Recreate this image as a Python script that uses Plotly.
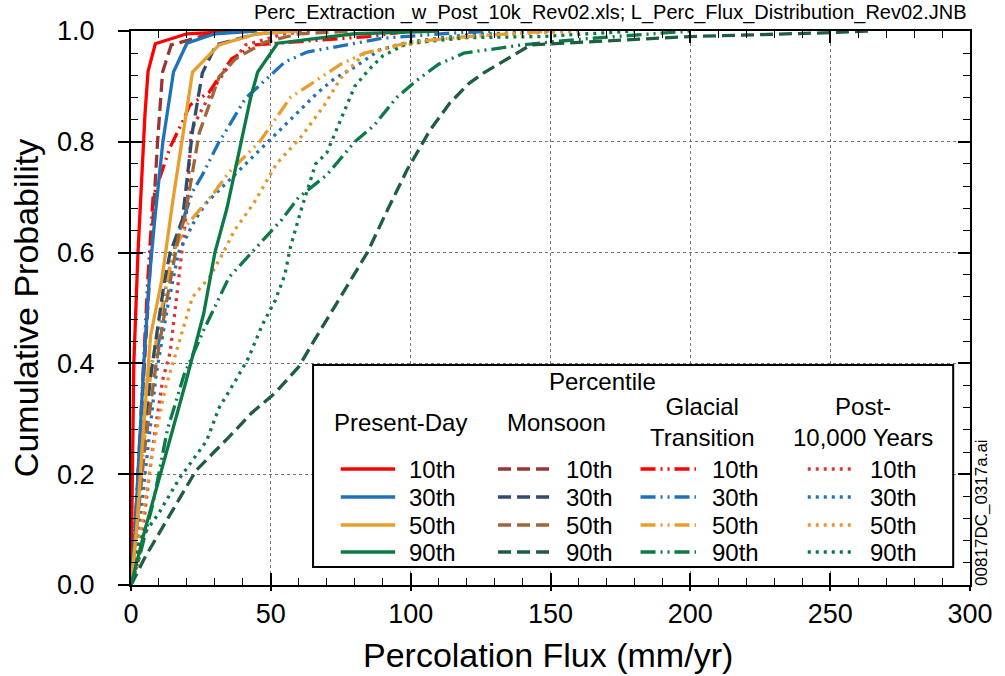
import plotly.graph_objects as go

# ---------------- data (x = percolation flux mm/yr, y = cumulative probability) ----------------
pd10_x = [0, 0.5, 1, 2.5, 3.5, 5, 6.1, 8.7, 20, 40]
pd10_y = [0, 0.2, 0.4, 0.6, 0.7, 0.85, 0.927, 0.977, 0.995, 1.0]
pd30_x = [0, 1.5, 3, 4.6, 6.5, 8.5, 11.4, 15.2, 20, 30, 45]
pd30_y = [0, 0.1, 0.25, 0.4, 0.55, 0.66, 0.8, 0.926, 0.978, 0.995, 1.0]
pd50_x = [0, 2, 4, 7, 11, 15, 22, 31.5, 45, 60]
pd50_y = [0, 0.1, 0.25, 0.45, 0.55, 0.695, 0.926, 0.975, 0.995, 1.0]
pd90_x = [0, 5, 10.5, 19.8, 26, 30, 34.3, 42.8, 45.3, 52.4, 80, 110]
pd90_y = [0, 0.1, 0.2, 0.37, 0.49, 0.6, 0.68, 0.88, 0.926, 0.978, 0.995, 1.0]

mo10_x = [0, 2, 4, 6, 8, 9.5, 11.3, 14.4, 30, 40]
mo10_y = [0, 0.15, 0.33, 0.5, 0.66, 0.8, 0.926, 0.975, 0.997, 1.0]
mo30_x = [0, 2, 4, 7.4, 10, 12, 14, 18.4, 22, 25.5, 30.4, 45, 60]
mo30_y = [0, 0.12, 0.25, 0.39, 0.48, 0.55, 0.6, 0.66, 0.82, 0.924, 0.975, 0.995, 1.0]
mo50_x = [0, 2, 5, 9, 13, 17, 19.1, 24.4, 31.5, 37.4, 48, 60, 80]
mo50_y = [0, 0.1, 0.25, 0.4, 0.52, 0.63, 0.66, 0.816, 0.917, 0.95, 0.98, 0.995, 1.0]
mo90_x = [0, 5, 11.4, 23.3, 35, 43, 51.6, 60, 65, 75, 84.5, 92, 98.7, 106.8, 114, 121, 126, 143, 200, 250, 265]
mo90_y = [0, 0.05, 0.105, 0.207, 0.267, 0.31, 0.347, 0.394, 0.437, 0.52, 0.6, 0.68, 0.749, 0.82, 0.87, 0.906, 0.924, 0.975, 0.99, 0.997, 1.0]

gt10_x = [0, 2, 4, 6, 7.9, 11.3, 14, 18.4, 21, 28, 36, 44.6, 85, 100]
gt10_y = [0, 0.15, 0.35, 0.55, 0.7, 0.75, 0.79, 0.836, 0.866, 0.89, 0.95, 0.975, 0.99, 1.0]
gt30_x = [0, 2, 4, 6, 10, 12.5, 14.5, 18, 22, 25.5, 31.5, 34, 41, 45.6, 55, 63, 90, 114, 130]
gt30_y = [0, 0.12, 0.25, 0.38, 0.44, 0.54, 0.59, 0.65, 0.71, 0.74, 0.8, 0.82, 0.879, 0.9, 0.944, 0.962, 0.987, 0.996, 1.0]
gt50_x = [0, 2, 4, 7, 11, 15, 20, 30, 35, 46, 57, 66, 75, 83.5, 100, 120, 150]
gt50_y = [0, 0.1, 0.22, 0.38, 0.5, 0.6, 0.65, 0.71, 0.745, 0.8, 0.88, 0.91, 0.94, 0.96, 0.98, 0.99, 1.0]
gt90_x = [0, 3, 8, 13, 19, 26, 35, 47, 54, 60, 70, 80, 87, 95, 102, 110, 119, 140, 160, 200]
gt90_y = [0, 0.05, 0.15, 0.28, 0.38, 0.46, 0.555, 0.62, 0.66, 0.7, 0.74, 0.8, 0.83, 0.88, 0.91, 0.94, 0.96, 0.975, 0.985, 1.0]

po10_x = [0, 3, 7.8, 11.3, 14, 17, 20, 21.5, 25.5, 30, 34, 41, 55, 65]
po10_y = [0, 0.05, 0.25, 0.37, 0.42, 0.55, 0.68, 0.82, 0.86, 0.9, 0.93, 0.975, 0.995, 1.0]
po30_x = [0, 2, 5, 9, 13, 17, 23, 27, 35, 47, 54, 60, 67, 73, 80, 89, 99, 120, 150]
po30_y = [0, 0.05, 0.2, 0.38, 0.5, 0.6, 0.66, 0.69, 0.73, 0.79, 0.827, 0.857, 0.89, 0.915, 0.935, 0.966, 0.98, 0.993, 1.0]
po50_x = [0, 2, 5, 8, 12, 19, 22, 28, 33, 37, 44, 52, 61, 69, 75, 83.5, 93, 110, 130, 160]
po50_y = [0, 0.05, 0.15, 0.25, 0.35, 0.47, 0.52, 0.555, 0.6, 0.64, 0.69, 0.76, 0.81, 0.865, 0.915, 0.96, 0.97, 0.985, 0.993, 1.0]
po90_x = [0, 3, 10, 17, 27, 31.5, 37.5, 42, 47, 51.6, 55, 57, 61, 66, 70, 75, 80, 85, 90, 99, 120, 147, 180]
po90_y = [0, 0.08, 0.13, 0.19, 0.26, 0.32, 0.37, 0.41, 0.47, 0.514, 0.56, 0.61, 0.68, 0.76, 0.78, 0.84, 0.9, 0.93, 0.955, 0.978, 0.988, 0.99, 1.0]

percentiles = ["10th", "30th", "50th", "90th"]
groups = ["Present-Day", "Monsoon", "Glacial<br>Transition", "Post-<br>10,000 Years"]
x_ticks = [0, 50, 100, 150, 200, 250, 300]
y_ticks = [0.0, 0.2, 0.4, 0.6, 0.8, 1.0]

# ---------------- styles ----------------
RED, BLUE, ORANGE, GREEN = "#FF0000", "#1F72B8", "#E89E2C", "#0B7A46"
MONSOON_COLORS = ["#9B3434", "#2F4D6B", "#A0663A", "#1F5C41"]
POST_COLORS = ["#D9363C", "#1F72B8", "#E8962C", "#0B7A46"]
PD_COLORS = [RED, BLUE, ORANGE, GREEN]
DASH_MO = "13px,6px"
DASH_GT = "15px,5px,2px,5px,2px,5px"
DASH_PO = "3px,5px"
LW = 3.3

series = {
    "po": [(po10_x, po10_y), (po30_x, po30_y), (po50_x, po50_y), (po90_x, po90_y)],
    "gt": [(gt10_x, gt10_y), (gt30_x, gt30_y), (gt50_x, gt50_y), (gt90_x, gt90_y)],
    "mo": [(mo10_x, mo10_y), (mo30_x, mo30_y), (mo50_x, mo50_y), (mo90_x, mo90_y)],
    "pd": [(pd10_x, pd10_y), (pd30_x, pd30_y), (pd50_x, pd50_y), (pd90_x, pd90_y)],
}
style = {
    "pd": (PD_COLORS, "solid"),
    "mo": (MONSOON_COLORS, DASH_MO),
    "gt": (PD_COLORS, DASH_GT),
    "po": (POST_COLORS, DASH_PO),
}

fig = go.Figure()
for key in ["po", "gt", "mo", "pd"]:
    cols, dash = style[key]
    for i, (xs, ys) in enumerate(series[key]):
        fig.add_trace(go.Scatter(x=xs, y=ys, mode="lines", showlegend=False,
                                 line=dict(color=cols[i], width=LW, dash=dash),
                                 hoverinfo="skip"))
# invisible trace that anchors the overlay axes carrying the outward ticks and labels
fig.add_trace(go.Scatter(x=[None], y=[None], xaxis="x2", yaxis="y2", mode="lines",
                         showlegend=False, hoverinfo="skip"))

# plot area in pixels: x 131..979, y 31..585
L, R, T, B = 131, 979, 31, 585
def px(x):
    return (x - L) / (R - L)
def py(y):
    return (B - y) / (B - T)

FONT = "Arial, Liberation Sans, sans-serif"
common_main = dict(showline=True, linecolor="black", linewidth=2, mirror="allticks",
                   ticks="inside", ticklen=12, tickwidth=1.5, tickcolor="black",
                   showgrid=True, gridcolor="#777777", griddash="3px,3px", gridwidth=1,
                   zeroline=False, showticklabels=False)
fig.update_layout(
    width=1005, height=676,
    margin=dict(l=L, r=1005 - R, t=T, b=676 - B),
    paper_bgcolor="white", plot_bgcolor="white",
    font=dict(family=FONT, color="black"),
    xaxis=dict(range=[0, 300], tickvals=x_ticks,
               minor=dict(dtick=10, ticks="inside", ticklen=7, tickwidth=1.2, tickcolor="black", showgrid=False),
               **common_main),
    yaxis=dict(range=[0, 1.0], tickvals=y_ticks,
               minor=dict(dtick=0.04, ticks="inside", ticklen=7, tickwidth=1.2, tickcolor="black", showgrid=False),
               **common_main),
    xaxis2=dict(range=[0, 300], overlaying="x", anchor="y2", side="bottom",
                tickvals=x_ticks, ticktext=[str(v) for v in x_ticks],
                ticks="outside", ticklen=5, tickwidth=1.5, tickcolor="black",
                showline=False, showgrid=False, zeroline=False, tickfont=dict(size=27)),
    yaxis2=dict(range=[0, 1.0], overlaying="y", anchor="x2", side="left",
                tickvals=y_ticks, ticktext=[f"{v:.1f}" for v in y_ticks],
                ticks="outside", ticklen=12, tickwidth=1.5, tickcolor="black",
                showline=False, showgrid=False, zeroline=False, tickfont=dict(size=27),
                ticklabelstandoff=18),
)

shapes = []
annotations = []
# axis titles
annotations.append(dict(text="Percolation Flux (mm/yr)", xref="paper", yref="paper",
                        x=px(552), y=py(655), showarrow=False, font=dict(size=34),
                        xanchor="center", yanchor="middle"))
annotations.append(dict(text="Cumulative Probability", xref="paper", yref="paper",
                        x=px(25), y=py(308), showarrow=False, font=dict(size=34), textangle=-90,
                        xanchor="center", yanchor="middle"))
# legend box
shapes.append(dict(type="rect", xref="paper", yref="paper", x0=px(315), x1=px(962),
                   y0=py(567), y1=py(365), fillcolor="white", line=dict(color="black", width=2),
                   layer="above"))
annotations.append(dict(text="Percentile", xref="paper", yref="paper", x=px(608), y=py(381),
                        showarrow=False, font=dict(size=24), xanchor="center", yanchor="middle"))
head_x = [403, 561, 708, 871]
sample_x = [(343, 398), (502, 557), (646, 702), (815, 862)]
label_x = [410, 569, 716, 876]
row_y = [469, 497, 525, 552]
colsets = [PD_COLORS, MONSOON_COLORS, PD_COLORS, POST_COLORS]
dashes = ["solid", DASH_MO, DASH_GT, DASH_PO]
for g in range(4):
    annotations.append(dict(text=groups[g], xref="paper", yref="paper", x=px(head_x[g]),
                            y=py(422), showarrow=False, font=dict(size=24),
                            xanchor="center", yanchor="middle", align="center"))
    for r in range(4):
        shapes.append(dict(type="line", xref="paper", yref="paper",
                           x0=px(sample_x[g][0]), x1=px(sample_x[g][1]), y0=py(row_y[r]), y1=py(row_y[r]),
                           line=dict(color=colsets[g][r], width=LW, dash=dashes[g]), layer="above"))
        annotations.append(dict(text=percentiles[r], xref="paper", yref="paper", x=px(label_x[g]),
                                y=py(row_y[r]), showarrow=False, font=dict(size=24),
                                xanchor="left", yanchor="middle"))

annotations.append(dict(text="Perc_Extraction _w_Post_10k_Rev02.xls; L_Perc_Flux_Distribution_Rev02.JNB",
                        xref="paper", yref="paper", x=px(978), y=py(13), showarrow=False,
                        font=dict(size=20), xanchor="right", yanchor="middle"))
annotations.append(dict(text="00817DC_0317a.ai", xref="paper", yref="paper", x=px(990), y=py(512),
                        showarrow=False, font=dict(size=17), textangle=-90,
                        xanchor="center", yanchor="middle"))

fig.update_layout(shapes=shapes, annotations=annotations)
fig.write_html("out.html")
